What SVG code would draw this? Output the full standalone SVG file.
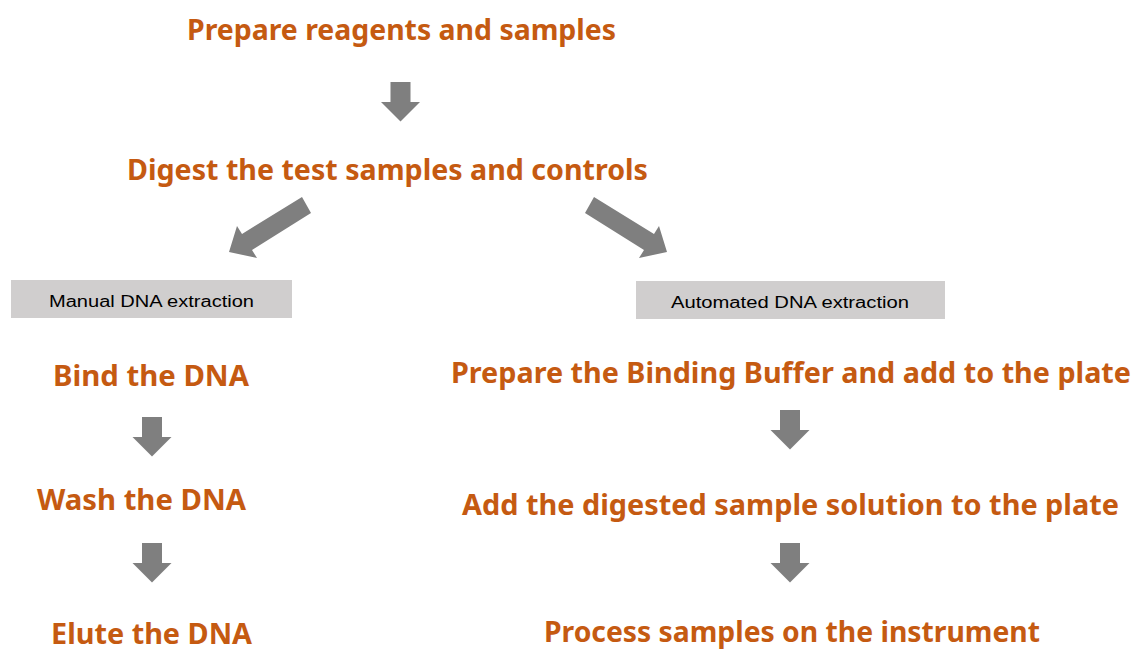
<svg xmlns="http://www.w3.org/2000/svg" xmlns:xlink="http://www.w3.org/1999/xlink" width="1136" height="652" viewBox="0 0 1136 652">
<style>
.step{font-family:"Noto Sans","Open Sans","Liberation Sans",sans-serif;font-weight:bold;font-size:28px;fill:#C55A11;}
.lbl{font-family:"Liberation Sans","Noto Sans",sans-serif;font-size:16px;fill:#000;}
.box{fill:#D0CECE;}
.arr{fill:#7F7F7F;}
</style>
<defs>
<path id="down" d="M-10,0 H10 V20 H19.5 L0,39.5 L-19.5,20 H-10 Z"/>
</defs>
<rect width="1136" height="652" fill="#fff"/>
<g id="connectors" class="arr">
<use xlink:href="#down" href="#down" x="400.5" y="82"/>
<polygon points="302,197 242,234 237,226 229,252 257,258 252,250 311,213"/>
<polygon points="594,197 654,234 659,226 667,252 639,258 644,250 585,213"/>
<use xlink:href="#down" href="#down" x="152" y="417"/>
<use xlink:href="#down" href="#down" x="152" y="543"/>
<use xlink:href="#down" href="#down" x="790" y="410"/>
<use xlink:href="#down" href="#down" x="790" y="543"/>
</g>
<g id="n-prepare"><text class="step" x="187" y="40" textLength="429" lengthAdjust="spacingAndGlyphs">Prepare reagents and samples</text></g>
<g id="n-digest"><text class="step" x="127" y="180" textLength="521" lengthAdjust="spacingAndGlyphs">Digest the test samples and controls</text></g>
<g id="n-manual"><rect class="box" x="11" y="280" width="281" height="38"/><text class="lbl" x="49" y="307" textLength="205" lengthAdjust="spacingAndGlyphs">Manual DNA extraction</text></g>
<g id="n-auto"><rect class="box" x="636" y="281" width="309" height="38"/><text class="lbl" x="671" y="308" textLength="238" lengthAdjust="spacingAndGlyphs">Automated  DNA extraction</text></g>
<g id="n-bind"><text class="step" x="53" y="386" textLength="196" lengthAdjust="spacingAndGlyphs">Bind the DNA</text></g>
<g id="n-wash"><text class="step" x="37" y="510" textLength="209" lengthAdjust="spacingAndGlyphs">Wash the DNA</text></g>
<g id="n-elute"><text class="step" x="51" y="644" textLength="201" lengthAdjust="spacingAndGlyphs">Elute the DNA</text></g>
<g id="n-binding"><text class="step" x="451" y="383" textLength="680" lengthAdjust="spacingAndGlyphs">Prepare the Binding Buffer and add to the plate</text></g>
<g id="n-add"><text class="step" x="462" y="515" textLength="657" lengthAdjust="spacingAndGlyphs">Add the digested sample solution to the plate</text></g>
<g id="n-process"><text class="step" x="544" y="642" textLength="496" lengthAdjust="spacingAndGlyphs">Process samples on the instrument</text></g>
</svg>
